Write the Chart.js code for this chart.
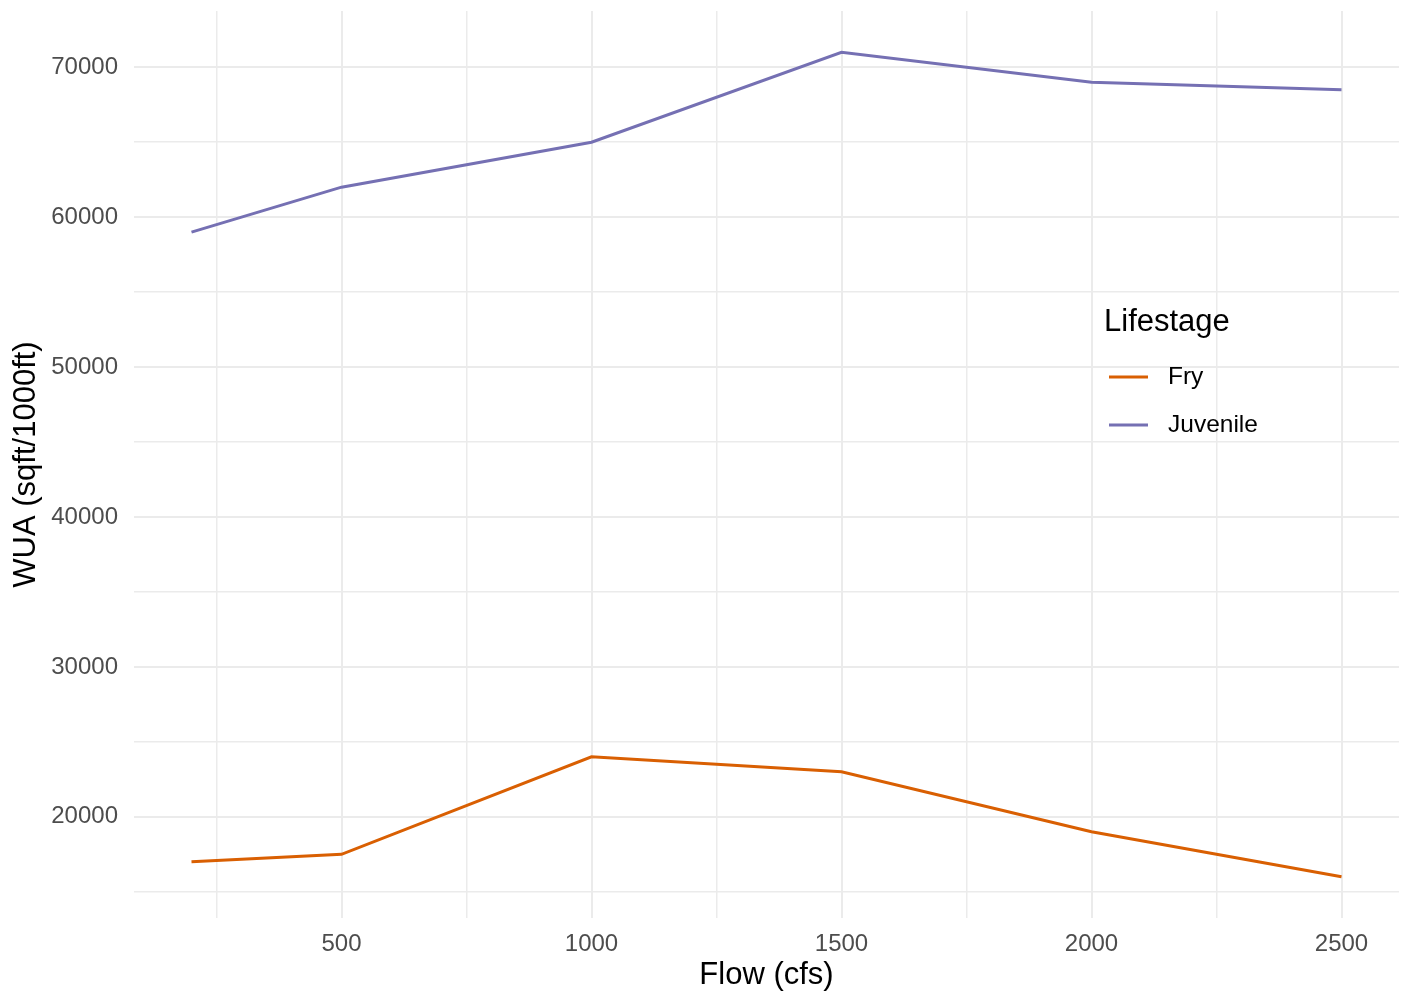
<!DOCTYPE html>
<html>
<head>
<meta charset="utf-8">
<script src="https://cdn.jsdelivr.net/npm/chart.js@4"></script>
<style>
  html, body { margin: 0; padding: 0; background: #fff; }
  #wrap { width: 1406px; height: 994px; }
</style>
</head>
<body>
<div id="wrap"><canvas id="wua-chart"></canvas></div>
<script>
// values
const flows = [200, 500, 1000, 1500, 2000, 2500];
const fryWua = [17000, 17500, 24000, 23000, 19000, 16000];
const juvenileWua = [59000, 62000, 65000, 71000, 69000, 68500];
const seriesNames = ['Fry', 'Juvenile'];
const seriesColors = ['#D95F02', '#7570B3'];
const xTicks = [250, 500, 750, 1000, 1250, 1500, 1750, 2000, 2250, 2500];
const yTicks = [15000, 20000, 25000, 30000, 35000, 40000, 45000, 50000, 55000, 60000, 65000, 70000];

const FONT = '"Liberation Sans", Arial, Helvetica, sans-serif';

function toPoints(values) {
  return flows.map((f, i) => ({ x: f, y: values[i] }));
}

function isMajorX(v) { return v % 500 === 0; }
function isMajorY(v) { return v % 10000 === 0; }

// ggplot style legend drawn inside the panel
const legendPlugin = {
  id: 'lifestageLegend',
  afterDraw(chart) {
    const ctx = chart.ctx;
    ctx.save();
    ctx.fillStyle = '#000';
    ctx.textBaseline = 'middle';
    ctx.textAlign = 'left';
    ctx.font = '31px ' + FONT;
    ctx.fillText('Lifestage', 1104, 322);
    ctx.font = '24.5px ' + FONT;
    const rows = [377, 425];
    chart.data.datasets.forEach((ds, i) => {
      ctx.strokeStyle = ds.borderColor;
      ctx.lineWidth = 3;
      ctx.beginPath();
      ctx.moveTo(1109, rows[i]);
      ctx.lineTo(1148, rows[i]);
      ctx.stroke();
      ctx.fillStyle = '#000';
      ctx.fillText(ds.label, 1168, rows[i]);
    });
    ctx.restore();
  }
};

const ctx = document.getElementById('wua-chart').getContext('2d');
const chart = new Chart(ctx, {
  type: 'line',
  data: {
    datasets: [
      { label: seriesNames[0], data: toPoints(fryWua), borderColor: seriesColors[0] },
      { label: seriesNames[1], data: toPoints(juvenileWua), borderColor: seriesColors[1] }
    ]
  },
  options: {
    responsive: true,
    maintainAspectRatio: false,
    animation: false,
    layout: { padding: { top: 11, right: 7, left: 0, bottom: 0 } },
    elements: {
      line: { borderWidth: 3, tension: 0, fill: false },
      point: { radius: 0 }
    },
    plugins: {
      legend: { display: false },
      tooltip: { enabled: false }
    },
    scales: {
      x: {
        type: 'linear',
        min: 85,
        max: 2615,
        border: { display: false },
        afterBuildTicks: scale => { scale.ticks = xTicks.map(v => ({ value: v })); },
        afterFit: scale => {
          scale.height = 76;
          scale.paddingLeft = 0;
          scale.paddingRight = 0;
        },
        grid: {
          drawTicks: false,
          color: '#EBEBEB',
          lineWidth: c => isMajorX(c.tick.value) ? 2 : 1.5
        },
        ticks: {
          padding: 12,
          color: '#4D4D4D',
          font: { family: FONT, size: 24 },
          maxRotation: 0,
          autoSkip: false,
          callback: v => isMajorX(v) ? String(v) : ''
        },
        title: {
          display: true,
          text: 'Flow (cfs)',
          color: '#000',
          font: { family: FONT, size: 31 },
          padding: { top: 0, bottom: 0 }
        }
      },
      y: {
        type: 'linear',
        min: 13250,
        max: 73750,
        border: { display: false },
        afterBuildTicks: scale => { scale.ticks = yTicks.map(v => ({ value: v })); },
        afterFit: scale => {
          scale.width = 134;
          scale.paddingTop = 0;
          scale.paddingBottom = 0;
        },
        grid: {
          drawTicks: false,
          color: '#EBEBEB',
          lineWidth: c => isMajorY(c.tick.value) ? 2 : 1.5
        },
        ticks: {
          padding: 16,
          color: '#4D4D4D',
          font: { family: FONT, size: 24 },
          autoSkip: false,
          callback: v => isMajorY(v) ? String(v) : ''
        },
        title: {
          display: true,
          text: 'WUA (sqft/1000ft)',
          color: '#000',
          font: { family: FONT, size: 31 },
          padding: { top: 8, bottom: 0 }
        }
      }
    }
  },
  plugins: [legendPlugin]
});
</script>
</body>
</html>
